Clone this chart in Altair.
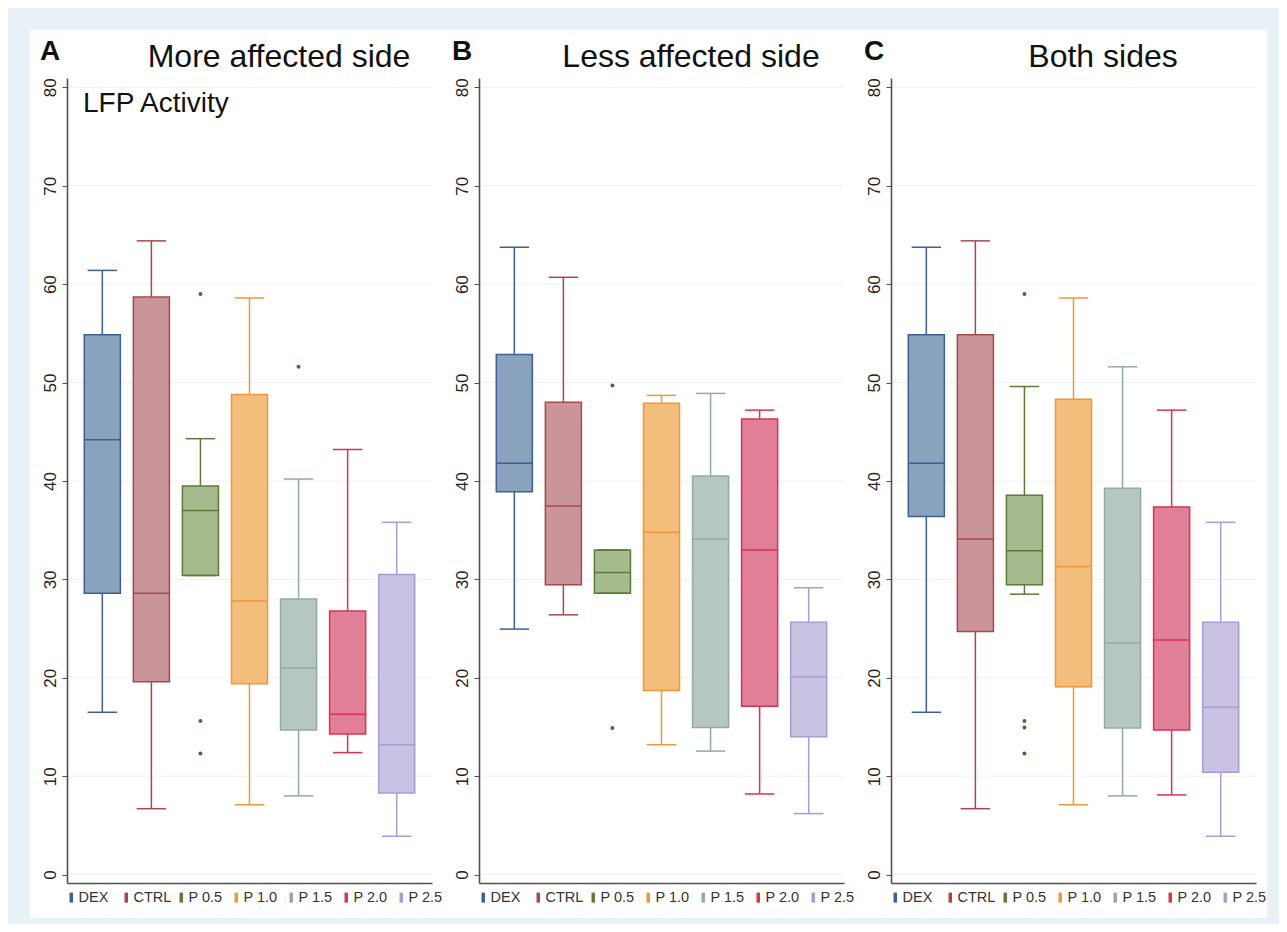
import altair as alt
import pandas as pd

# ---------------- data ----------------
groups = ["DEX", "CTRL", "P 0.5", "P 1.0", "P 1.5", "P 2.0", "P 2.5"]
panel_letters = ["A", "B", "C"]
panel_titles = ["More affected side", "Less affected side", "Both sides"]
note_text = "LFP Activity"
y_ticks = [0, 10, 20, 30, 40, 50, 60, 70, 80]

# Panel A: more affected side
a_lo = [16.5, 6.7, 30.4, 7.1, 8.0, 12.4, 3.9]
a_q1 = [28.6, 19.6, 30.4, 19.4, 14.7, 14.3, 8.3]
a_med = [44.2, 28.6, 37.0, 27.8, 21.0, 16.3, 13.2]
a_q3 = [54.85, 58.7, 39.5, 48.8, 28.0, 26.8, 30.5]
a_hi = [61.4, 64.4, 44.3, 58.6, 40.2, 43.2, 35.8]
a_out_g = ["P 0.5", "P 0.5", "P 0.5", "P 1.5"]
a_out_v = [59.0, 15.6, 12.3, 51.6]

# Panel B: less affected side
b_lo = [24.95, 26.4, 28.6, 13.2, 12.55, 8.2, 6.2]
b_q1 = [38.9, 29.45, 28.6, 18.7, 14.95, 17.1, 14.0]
b_med = [41.8, 37.45, 30.7, 34.8, 34.1, 33.0, 20.1]
b_q3 = [52.85, 48.0, 33.0, 47.9, 40.5, 46.3, 25.65]
b_hi = [63.75, 60.7, 33.0, 48.7, 48.9, 47.2, 29.15]
b_out_g = ["P 0.5", "P 0.5"]
b_out_v = [49.7, 14.9]

# Panel C: both sides
c_lo = [16.5, 6.7, 28.5, 7.1, 8.0, 8.1, 3.9]
c_q1 = [36.4, 24.7, 29.45, 19.1, 14.9, 14.7, 10.4]
c_med = [41.8, 34.1, 32.9, 31.3, 23.55, 23.85, 17.0]
c_q3 = [54.85, 54.85, 38.55, 48.3, 39.25, 37.35, 25.65]
c_hi = [63.75, 64.4, 49.6, 58.6, 51.6, 47.2, 35.8]
c_out_g = ["P 0.5", "P 0.5", "P 0.5", "P 0.5"]
c_out_v = [59.0, 15.6, 14.95, 12.3]

# ---------------- style ----------------
FONT = "Liberation Sans"
stroke_colors = ["#3e5f94", "#a9474e", "#5b7b36", "#f2963c", "#93aaa2", "#d8334f", "#a89cd2"]
fill_colors = ["#8aa3bd", "#c9949a", "#a6ba8e", "#f3bd7b", "#b5c7c1", "#e07f97", "#c9c2e3"]
outlier_color = "#4b6a33"
grid_color = "#edf1f3"
page_bg = "#e8f1f5"
W, H = 365, 805
Y_DOMAIN = [-0.85, 80.95]


def make_panel(letter, title, lo, q1, med, q3, hi, out_g, out_v, note=None, background=False):
    stats = pd.DataFrame(dict(g=groups, lo=lo, q1=q1, med=med, q3=q3, hi=hi))
    outliers = pd.DataFrame(dict(g=out_g, v=out_v))
    ticks_df = pd.DataFrame(dict(v=y_ticks))

    xscale = alt.Scale(domain=groups, paddingInner=0, paddingOuter=0.22)
    xaxis = alt.Axis(labels=False, ticks=False, title=None, grid=False, domain=True, zindex=1)
    yscale = alt.Scale(domain=Y_DOMAIN, nice=False, zero=False)
    yaxis = alt.Axis(values=y_ticks, title=None, grid=False, labelAngle=-90, zindex=1)

    def X(bp=None):
        if bp is None:
            return alt.X("g:N", sort=groups, scale=xscale, axis=xaxis)
        return alt.X("g:N", sort=groups, scale=xscale, axis=xaxis, bandPosition=bp)

    def Y(f):
        return alt.Y(f, scale=yscale, axis=yaxis)

    legend = alt.Legend(
        orient="none", legendX=-3, legendY=H + 7, direction="horizontal", title=None,
        symbolType="M0,-1L0,1", symbolSize=100, symbolStrokeWidth=3.5,
        labelFont=FONT, labelFontSize=14.5, labelColor="#333", labelOffset=0,
        columnPadding=2, gridAlign="all",
    )
    color = alt.Color("g:N", sort=groups, scale=alt.Scale(domain=groups, range=stroke_colors), legend=legend)

    layers = []
    if background:
        layers.append(
            alt.Chart(pd.DataFrame({"k": [1]})).mark_rect(color="white").encode(
                x=alt.value(-37), x2=alt.value(1200), y=alt.value(-48), y2=alt.value(840)
            )
        )
    layers.append(alt.Chart(ticks_df).mark_rule(color=grid_color, strokeWidth=1).encode(y=Y("v:Q")))
    layers.append(
        alt.Chart(stats).mark_rule(strokeWidth=1.5).encode(x=X(0.5), y=Y("lo:Q"), y2="hi:Q", color=color)
    )
    layers.append(
        alt.Chart(stats).mark_bar(width=alt.RelativeBandSize(band=0.735), strokeWidth=1.5).encode(
            x=X(), y=Y("q1:Q"), y2="q3:Q",
            fill=alt.Fill("g:N", sort=groups, scale=alt.Scale(domain=groups, range=fill_colors), legend=None),
            stroke=alt.Stroke("g:N", sort=groups, scale=alt.Scale(domain=groups, range=stroke_colors), legend=None),
        )
    )
    layers.append(
        alt.Chart(stats).mark_rule(strokeWidth=1.5).encode(
            x=X(0.1325), x2=alt.X2("g", bandPosition=0.8675), y=Y("med:Q"), color=color
        )
    )
    for f in ["lo:Q", "hi:Q"]:
        layers.append(
            alt.Chart(stats).mark_rule(strokeWidth=1.5).encode(
                x=X(0.2), x2=alt.X2("g", bandPosition=0.8), y=Y(f), color=color
            )
        )
    layers.append(
        alt.Chart(outliers).mark_circle(size=16, color=outlier_color, opacity=1).encode(x=X(0.5), y=Y("v:Q"))
    )
    layers.append(
        alt.Chart(pd.DataFrame({"t": [letter]})).mark_text(
            font=FONT, fontSize=28, fontWeight="bold", align="center", baseline="alphabetic", color="#111"
        ).encode(x=alt.value(-17), y=alt.value(-18), text="t:N")
    )
    layers.append(
        alt.Chart(pd.DataFrame({"t": [title]})).mark_text(
            font=FONT, fontSize=32, align="center", baseline="alphabetic", color="#111"
        ).encode(x=alt.value(212), y=alt.value(-11), text="t:N")
    )
    if note:
        layers.append(
            alt.Chart(pd.DataFrame({"t": [note]})).mark_text(
                font=FONT, fontSize=28, align="left", baseline="alphabetic", color="#111"
            ).encode(x=alt.value(16), y=alt.value(34), text="t:N")
        )
    return alt.layer(*layers).properties(width=W, height=H)


pa = make_panel(panel_letters[0], panel_titles[0], a_lo, a_q1, a_med, a_q3, a_hi, a_out_g, a_out_v,
                note=note_text, background=True)
pb = make_panel(panel_letters[1], panel_titles[1], b_lo, b_q1, b_med, b_q3, b_hi, b_out_g, b_out_v)
pc = make_panel(panel_letters[2], panel_titles[2], c_lo, c_q1, c_med, c_q3, c_hi, c_out_g, c_out_v)

chart = (
    alt.hconcat(pa, pb, pc, spacing=47, bounds="flush")
    .resolve_scale(color="independent")
    .properties(background=page_bg, padding={"left": 22, "top": 22, "right": 12, "bottom": 6})
    .configure_view(stroke=None)
    .configure_axis(
        domainColor="#505050", domainWidth=1.6, tickColor="#505050", tickWidth=1,
        tickSize=5, labelFont=FONT, labelFontSize=17, labelColor="#222222", labelPadding=3,
    )
)

chart.save("out.html", embed_options={"renderer": "svg", "actions": False})
